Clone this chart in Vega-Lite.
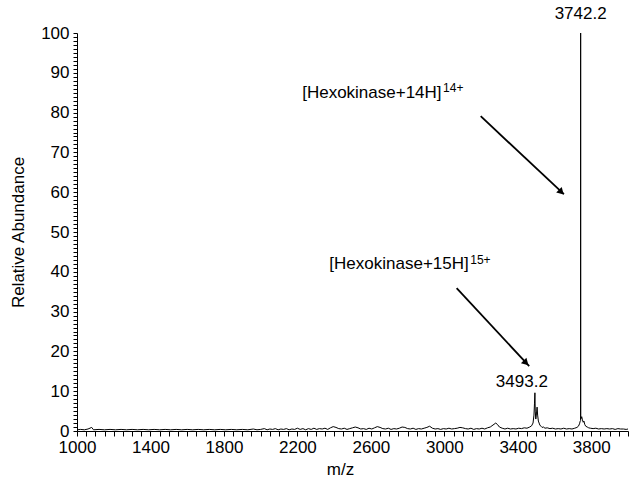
{
  "$schema": "https://vega.github.io/schema/vega-lite/v6.json",
  "width": 551,
  "height": 398,
  "autosize": "none",
  "padding": {"left": 77, "top": 33, "right": 2, "bottom": 49},
  "background": "white",
  "config": {
    "view": {"stroke": null},
    "font": "Liberation Sans",
    "axis": {
      "domainColor": "black",
      "domainWidth": 1,
      "tickColor": "black",
      "tickWidth": 1,
      "labelColor": "black",
      "labelFont": "Liberation Sans",
      "labelFontSize": 17,
      "titleFont": "Liberation Sans",
      "titleFontSize": 17,
      "titleFontWeight": "normal",
      "titleColor": "black",
      "grid": false
    }
  },
  "datasets": {
    "spectrum": [
      {"mz": 1000, "ab": 0.3}, {"mz": 1020, "ab": 0.4}, {"mz": 1040, "ab": 0.3}, {"mz": 1060, "ab": 0.5},
      {"mz": 1080, "ab": 0.9}, {"mz": 1090, "ab": 0.3}, {"mz": 1120, "ab": 0.4}, {"mz": 1150, "ab": 0.3},
      {"mz": 1180, "ab": 0.4}, {"mz": 1210, "ab": 0.3}, {"mz": 1240, "ab": 0.4}, {"mz": 1270, "ab": 0.3},
      {"mz": 1300, "ab": 0.4}, {"mz": 1330, "ab": 0.3}, {"mz": 1360, "ab": 0.4}, {"mz": 1390, "ab": 0.3},
      {"mz": 1420, "ab": 0.4}, {"mz": 1450, "ab": 0.3}, {"mz": 1480, "ab": 0.4}, {"mz": 1510, "ab": 0.3},
      {"mz": 1540, "ab": 0.4}, {"mz": 1570, "ab": 0.3}, {"mz": 1600, "ab": 0.4}, {"mz": 1630, "ab": 0.3},
      {"mz": 1660, "ab": 0.4}, {"mz": 1690, "ab": 0.3}, {"mz": 1720, "ab": 0.4}, {"mz": 1750, "ab": 0.3},
      {"mz": 1780, "ab": 0.4}, {"mz": 1810, "ab": 0.3}, {"mz": 1840, "ab": 0.4}, {"mz": 1870, "ab": 0.3},
      {"mz": 1900, "ab": 0.4}, {"mz": 1930, "ab": 0.3}, {"mz": 1960, "ab": 0.5}, {"mz": 1980, "ab": 0.3},
      {"mz": 2000, "ab": 0.4}, {"mz": 2020, "ab": 0.6}, {"mz": 2035, "ab": 0.3}, {"mz": 2050, "ab": 0.5},
      {"mz": 2065, "ab": 0.4}, {"mz": 2080, "ab": 0.6}, {"mz": 2095, "ab": 0.3}, {"mz": 2110, "ab": 0.5},
      {"mz": 2125, "ab": 0.4}, {"mz": 2140, "ab": 0.6}, {"mz": 2155, "ab": 0.3}, {"mz": 2170, "ab": 0.5},
      {"mz": 2185, "ab": 0.4}, {"mz": 2200, "ab": 0.7}, {"mz": 2215, "ab": 0.4}, {"mz": 2230, "ab": 0.6},
      {"mz": 2245, "ab": 0.3}, {"mz": 2260, "ab": 0.6}, {"mz": 2275, "ab": 0.4}, {"mz": 2290, "ab": 0.7},
      {"mz": 2305, "ab": 0.4}, {"mz": 2320, "ab": 0.6}, {"mz": 2335, "ab": 0.5}, {"mz": 2350, "ab": 0.7},
      {"mz": 2365, "ab": 0.4}, {"mz": 2380, "ab": 0.8}, {"mz": 2395, "ab": 1.1}, {"mz": 2410, "ab": 0.9},
      {"mz": 2425, "ab": 0.6}, {"mz": 2440, "ab": 0.5}, {"mz": 2455, "ab": 0.7}, {"mz": 2470, "ab": 0.4},
      {"mz": 2485, "ab": 0.6}, {"mz": 2500, "ab": 0.8}, {"mz": 2515, "ab": 1.0}, {"mz": 2530, "ab": 0.8},
      {"mz": 2545, "ab": 0.5}, {"mz": 2560, "ab": 0.6}, {"mz": 2575, "ab": 0.4}, {"mz": 2590, "ab": 0.7},
      {"mz": 2605, "ab": 0.5}, {"mz": 2620, "ab": 0.8}, {"mz": 2635, "ab": 1.1}, {"mz": 2650, "ab": 0.9},
      {"mz": 2665, "ab": 0.6}, {"mz": 2680, "ab": 0.5}, {"mz": 2695, "ab": 0.7}, {"mz": 2710, "ab": 0.4},
      {"mz": 2725, "ab": 0.6}, {"mz": 2740, "ab": 0.5}, {"mz": 2755, "ab": 0.7}, {"mz": 2770, "ab": 1.0},
      {"mz": 2785, "ab": 0.9}, {"mz": 2800, "ab": 0.6}, {"mz": 2815, "ab": 0.5}, {"mz": 2830, "ab": 0.7},
      {"mz": 2845, "ab": 0.4}, {"mz": 2860, "ab": 0.6}, {"mz": 2875, "ab": 0.5}, {"mz": 2890, "ab": 0.7},
      {"mz": 2905, "ab": 0.9}, {"mz": 2920, "ab": 1.2}, {"mz": 2935, "ab": 0.7}, {"mz": 2950, "ab": 0.5},
      {"mz": 2965, "ab": 0.6}, {"mz": 2980, "ab": 0.4}, {"mz": 2995, "ab": 0.6}, {"mz": 3010, "ab": 0.5},
      {"mz": 3025, "ab": 0.7}, {"mz": 3040, "ab": 0.5}, {"mz": 3055, "ab": 0.6}, {"mz": 3070, "ab": 0.7},
      {"mz": 3085, "ab": 0.9}, {"mz": 3100, "ab": 0.8}, {"mz": 3115, "ab": 0.6}, {"mz": 3130, "ab": 0.5},
      {"mz": 3145, "ab": 0.7}, {"mz": 3160, "ab": 0.4}, {"mz": 3175, "ab": 0.6}, {"mz": 3190, "ab": 0.5},
      {"mz": 3205, "ab": 0.7}, {"mz": 3220, "ab": 0.5}, {"mz": 3235, "ab": 0.8}, {"mz": 3250, "ab": 1.0},
      {"mz": 3265, "ab": 1.5}, {"mz": 3280, "ab": 2.0}, {"mz": 3290, "ab": 1.6}, {"mz": 3300, "ab": 1.0},
      {"mz": 3315, "ab": 0.7}, {"mz": 3330, "ab": 0.5}, {"mz": 3345, "ab": 0.7}, {"mz": 3360, "ab": 0.5},
      {"mz": 3375, "ab": 0.6}, {"mz": 3390, "ab": 0.5}, {"mz": 3405, "ab": 0.7}, {"mz": 3420, "ab": 0.6},
      {"mz": 3435, "ab": 0.8}, {"mz": 3450, "ab": 0.7}, {"mz": 3465, "ab": 1.0}, {"mz": 3475, "ab": 1.3},
      {"mz": 3483, "ab": 2.0}, {"mz": 3488, "ab": 4.0}, {"mz": 3491, "ab": 7.0}, {"mz": 3493.2, "ab": 9.6},
      {"mz": 3495, "ab": 5.0}, {"mz": 3498, "ab": 3.0}, {"mz": 3502, "ab": 4.5}, {"mz": 3505, "ab": 6.0},
      {"mz": 3508, "ab": 4.0}, {"mz": 3512, "ab": 2.5}, {"mz": 3516, "ab": 2.0}, {"mz": 3520, "ab": 1.5},
      {"mz": 3526, "ab": 1.2}, {"mz": 3532, "ab": 0.9}, {"mz": 3540, "ab": 1.0}, {"mz": 3548, "ab": 0.7},
      {"mz": 3560, "ab": 0.8}, {"mz": 3575, "ab": 0.6}, {"mz": 3590, "ab": 0.7}, {"mz": 3605, "ab": 0.5},
      {"mz": 3620, "ab": 0.6}, {"mz": 3635, "ab": 0.5}, {"mz": 3650, "ab": 0.7}, {"mz": 3665, "ab": 0.5},
      {"mz": 3680, "ab": 0.6}, {"mz": 3695, "ab": 0.5}, {"mz": 3710, "ab": 0.7}, {"mz": 3722, "ab": 0.9},
      {"mz": 3730, "ab": 1.2}, {"mz": 3736, "ab": 1.8}, {"mz": 3740, "ab": 2.5}, {"mz": 3741.9, "ab": 2.6},
      {"mz": 3742.2, "ab": 100}, {"mz": 3742.5, "ab": 3.0},
      {"mz": 3745, "ab": 3.2}, {"mz": 3748, "ab": 3.6}, {"mz": 3752, "ab": 2.8}, {"mz": 3756, "ab": 2.2},
      {"mz": 3760, "ab": 2.5}, {"mz": 3765, "ab": 1.6}, {"mz": 3770, "ab": 1.2}, {"mz": 3778, "ab": 1.0},
      {"mz": 3786, "ab": 0.8}, {"mz": 3795, "ab": 0.7}, {"mz": 3810, "ab": 0.6}, {"mz": 3825, "ab": 0.7},
      {"mz": 3840, "ab": 0.5}, {"mz": 3855, "ab": 0.6}, {"mz": 3870, "ab": 0.5}, {"mz": 3885, "ab": 0.6},
      {"mz": 3900, "ab": 0.5}, {"mz": 3915, "ab": 0.6}, {"mz": 3930, "ab": 0.4}, {"mz": 3945, "ab": 0.6},
      {"mz": 3960, "ab": 0.5}, {"mz": 3975, "ab": 0.5}, {"mz": 3990, "ab": 0.4}, {"mz": 4000, "ab": 0.5}
    ],
    "arrows": [
      {"x1": 3198, "y1": 79.1, "x2": 3651, "y2": 59.5, "hx": 3637, "hy": 60.0},
      {"x1": 3067, "y1": 35.9, "x2": 3462, "y2": 16.3, "hx": 3445, "hy": 17.1}
    ],
    "peaklabels": [
      {"x": 3742.2, "y": 103.5, "text": "3742.2"},
      {"x": 3422, "y": 11.1, "text": "3493.2"}
    ],
    "ions": [
      {"x": 2985, "y": 83.7, "text": "[Hexokinase+14H]", "sx": 2993, "sy": 85.2, "sup": "14+"},
      {"x": 3133, "y": 40.7, "text": "[Hexokinase+15H]", "sx": 3141, "sy": 42.0, "sup": "15+"}
    ]
  },
  "layer": [
    {
      "data": {"name": "spectrum"},
      "mark": {"type": "line", "color": "black", "strokeWidth": 1},
      "encoding": {
        "x": {
          "field": "mz", "type": "quantitative",
          "scale": {"domain": [1000, 4000], "nice": false, "zero": false},
          "axis": {
            "title": "m/z",
            "titleX": 263,
            "titlePadding": 6,
            "tickCount": 1000,
            "values": [1000,1050,1100,1150,1200,1250,1300,1350,1400,1450,1500,1550,1600,1650,1700,1750,1800,1850,1900,1950,2000,2050,2100,2150,2200,2250,2300,2350,2400,2450,2500,2550,2600,2650,2700,2750,2800,2850,2900,2950,3000,3050,3100,3150,3200,3250,3300,3350,3400,3450,3500,3550,3600,3650,3700,3750,3800,3850,3900,3950,4000],
            "labelExpr": "(datum.value - 1000) % 400 === 0 && datum.value <= 3800 ? datum.label : ''",
            "format": "d",
            "tickSize": 5,
            "labelPadding": 3,
            "labelOverlap": false,
            "labelFlush": false
          }
        },
        "y": {
          "field": "ab", "type": "quantitative",
          "scale": {"domain": [0, 100], "nice": false},
          "axis": {
            "title": "Relative Abundance",
            "titleX": -50,
            "tickCount": 1000,
            "values": [0,1,2,3,4,5,6,7,8,9,10,11,12,13,14,15,16,17,18,19,20,21,22,23,24,25,26,27,28,29,30,31,32,33,34,35,36,37,38,39,40,41,42,43,44,45,46,47,48,49,50,51,52,53,54,55,56,57,58,59,60,61,62,63,64,65,66,67,68,69,70,71,72,73,74,75,76,77,78,79,80,81,82,83,84,85,86,87,88,89,90,91,92,93,94,95,96,97,98,99,100],
            "labelExpr": "datum.value % 10 === 0 ? datum.label : ''",
            "format": "d",
            "tickSize": 4,
            "labelPadding": 4,
            "labelOverlap": false,
            "labelFlush": false
          }
        }
      }
    },
    {
      "data": {"name": "arrows"},
      "mark": {"type": "rule", "color": "black", "strokeWidth": 1.8},
      "encoding": {
        "x": {"field": "x1", "type": "quantitative"},
        "y": {"field": "y1", "type": "quantitative"},
        "x2": {"field": "x2"},
        "y2": {"field": "y2"}
      }
    },
    {
      "data": {"name": "arrows"},
      "mark": {"type": "point", "shape": "triangle-up", "filled": true, "color": "black", "opacity": 1, "size": 60, "angle": 135},
      "encoding": {
        "x": {"field": "hx", "type": "quantitative"},
        "y": {"field": "hy", "type": "quantitative"}
      }
    },
    {
      "data": {"name": "peaklabels"},
      "mark": {"type": "text", "align": "center", "baseline": "alphabetic", "fontSize": 17, "color": "black", "font": "Liberation Sans"},
      "encoding": {
        "x": {"field": "x", "type": "quantitative"},
        "y": {"field": "y", "type": "quantitative"},
        "text": {"field": "text"}
      }
    },
    {
      "data": {"name": "ions"},
      "mark": {"type": "text", "align": "right", "baseline": "alphabetic", "fontSize": 17, "color": "black", "font": "Liberation Sans"},
      "encoding": {
        "x": {"field": "x", "type": "quantitative"},
        "y": {"field": "y", "type": "quantitative"},
        "text": {"field": "text"}
      }
    },
    {
      "data": {"name": "ions"},
      "mark": {"type": "text", "align": "left", "baseline": "alphabetic", "fontSize": 12, "color": "black", "font": "Liberation Sans"},
      "encoding": {
        "x": {"field": "sx", "type": "quantitative"},
        "y": {"field": "sy", "type": "quantitative"},
        "text": {"field": "sup"}
      }
    }
  ]
}
